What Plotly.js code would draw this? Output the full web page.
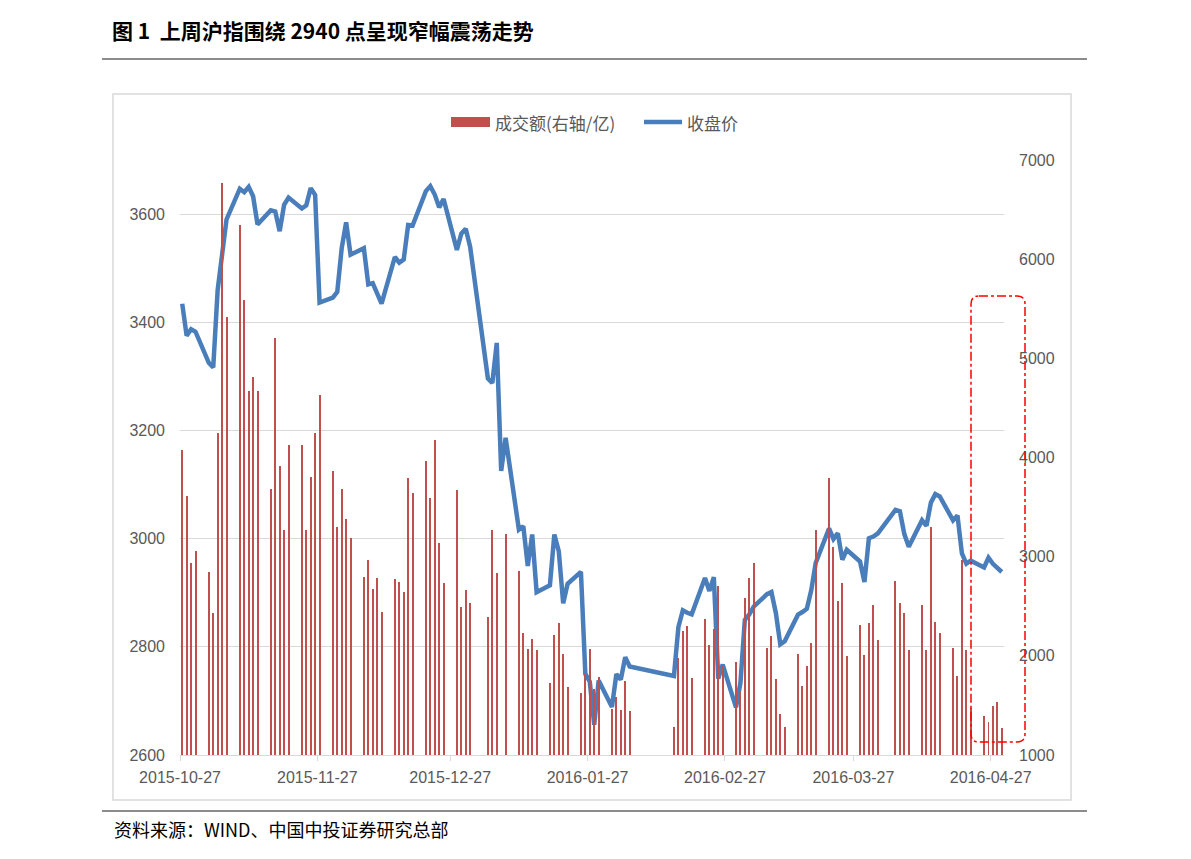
<!DOCTYPE html>
<html>
<head>
<meta charset="utf-8">
<script src="https://cdn.plot.ly/plotly-3.0.1.min.js"></script>
<style>
  html, body { margin: 0; padding: 0; background: #ffffff; }
  #chart { width: 1191px; height: 859px; }
</style>
</head>
<body>
<div id="chart"></div>
<script>
// Trading days (x values on a date axis)
const dates = [
  "2015-10-27","2015-10-28","2015-10-29","2015-10-30",
  "2015-11-02","2015-11-03","2015-11-04","2015-11-05","2015-11-06",
  "2015-11-09","2015-11-10","2015-11-11","2015-11-12","2015-11-13",
  "2015-11-16","2015-11-17","2015-11-18","2015-11-19","2015-11-20",
  "2015-11-23","2015-11-24","2015-11-25","2015-11-26","2015-11-27",
  "2015-11-30","2015-12-01","2015-12-02","2015-12-03","2015-12-04",
  "2015-12-07","2015-12-08","2015-12-09","2015-12-10","2015-12-11",
  "2015-12-14","2015-12-15","2015-12-16","2015-12-17","2015-12-18",
  "2015-12-21","2015-12-22","2015-12-23","2015-12-24","2015-12-25",
  "2015-12-28","2015-12-29","2015-12-30","2015-12-31",
  "2016-01-04","2016-01-05","2016-01-06","2016-01-07","2016-01-08",
  "2016-01-11","2016-01-12","2016-01-13","2016-01-14","2016-01-15",
  "2016-01-18","2016-01-19","2016-01-20","2016-01-21","2016-01-22",
  "2016-01-25","2016-01-26","2016-01-27","2016-01-28","2016-01-29",
  "2016-02-01","2016-02-02","2016-02-03","2016-02-04","2016-02-05",
  "2016-02-15","2016-02-16","2016-02-17","2016-02-18","2016-02-19",
  "2016-02-22","2016-02-23","2016-02-24","2016-02-25","2016-02-26",
  "2016-02-29","2016-03-01","2016-03-02","2016-03-03","2016-03-04",
  "2016-03-07","2016-03-08","2016-03-09","2016-03-10","2016-03-11",
  "2016-03-14","2016-03-15","2016-03-16","2016-03-17","2016-03-18",
  "2016-03-21","2016-03-22","2016-03-23","2016-03-24","2016-03-25",
  "2016-03-28","2016-03-29","2016-03-30","2016-03-31","2016-04-01",
  "2016-04-05","2016-04-06","2016-04-07","2016-04-08",
  "2016-04-11","2016-04-12","2016-04-13","2016-04-14","2016-04-15",
  "2016-04-18","2016-04-19","2016-04-20","2016-04-21","2016-04-22",
  "2016-04-25","2016-04-26","2016-04-27","2016-04-28","2016-04-29"
];

// 收盘价 (left axis)
const closePrice = [
  3434.34,3375.20,3387.32,3382.56,
  3325.08,3316.70,3459.64,3522.82,3590.03,
  3646.88,3640.49,3650.25,3632.90,3580.84,
  3606.96,3604.80,3568.47,3617.06,3630.50,
  3610.31,3616.11,3647.93,3635.55,3436.30,
  3445.40,3456.31,3536.91,3584.82,3524.99,
  3536.93,3470.07,3472.44,3455.50,3434.58,
  3520.67,3510.35,3516.19,3580.00,3578.96,
  3642.47,3651.77,3636.09,3612.49,3627.91,
  3533.78,3563.74,3572.88,3539.18,
  3296.26,3287.71,3361.84,3125.00,3186.41,
  3016.70,3022.86,2949.60,3007.65,2900.97,
  2913.84,3007.74,2976.69,2880.48,2916.56,
  2938.51,2749.79,2735.56,2655.66,2737.60,
  2688.85,2749.57,2739.25,2781.02,2763.49,
  2746.20,2836.57,2867.34,2862.89,2860.02,
  2927.18,2903.33,2928.90,2741.25,2767.21,
  2687.98,2733.17,2849.68,2859.76,2874.15,
  2897.34,2901.39,2862.56,2804.73,2810.31,
  2859.50,2864.37,2870.43,2904.83,2955.15,
  3018.80,2999.36,3009.96,2960.97,2979.43,
  2957.82,2919.83,3000.65,3003.92,3009.53,
  3053.07,3050.59,3008.42,2984.96,
  3033.96,3023.65,3066.64,3082.36,3078.12,
  3033.66,3042.82,2972.58,2953.67,2959.24,
  2946.67,2964.70,2953.50,2945.59,2938.32
];

// 成交额 (right axis, 亿)
const turnover = [
  4078,3607,2937,3061,
  2850,2432,4248,6772,5416,
  6347,5586,4666,4813,4674,
  3683,5201,3913,3272,4127,
  4127,3268,3800,4248,4629,
  3864,3295,3679,3378,3189,
  2794,2971,2669,2786,2439,
  2778,2748,2640,3796,3638,
  3964,3591,4180,3138,2731,
  3672,2496,2660,2529,
  2395,3269,2838,650,3228,
  2852,2227,2072,2166,2055,
  1726,2213,2331,2022,1689,
  1628,1813,2065,1662,1786,
  1464,1581,1457,1743,1447,
  1286,1981,2254,2297,1780,
  2375,2106,2267,2707,1900,
  1936,1650,2583,2788,2937,
  2075,2197,1765,1413,1279,
  2022,1696,1894,2130,3270,
  3790,3097,2549,2734,1995,
  2311,2005,2331,2509,2163,
  2754,2536,2428,2062,
  2512,2062,3299,2341,2230,
  2076,1797,2966,2055,1477,
  1397,1333,1494,1534,1276
];

const seriesNames = ["成交额(右轴/亿)", "收盘价"];
const xTickLabels = ["2015-10-27","2015-11-27","2015-12-27","2016-01-27","2016-02-27","2016-03-27","2016-04-27"];
const leftTicks = { min: 2600, max: 3700, step: 200 };
const rightTicks = { min: 1000, max: 7000, step: 1000 };
const xRange = ["2015-10-27", "2016-04-30"];

const BAR_COLOR = "#C0504D";
const LINE_COLOR = "#4A7EBB";
const DAY = 86400000;
const tickFont = { family: "Liberation Sans, Arial, sans-serif", size: 16, color: "#595959" };
const legendFont = { family: "Noto Sans CJK SC, sans-serif", size: 17, color: "#595959" };

// plot area in pixels: x 180..1004, y 160..755
const PX = (px) => (px - 180) / 824;
const PY = (py) => (755 - py) / 595;

const traces = [
  {
    type: "bar",
    name: seriesNames[0],
    x: dates,
    y: turnover,
    yaxis: "y2",
    xperiod: DAY,
    xperiodalignment: "middle",
    width: 0.45 * DAY,
    marker: { color: BAR_COLOR, line: { width: 0 } },
    showlegend: false
  },
  {
    type: "scatter",
    mode: "lines",
    name: seriesNames[1],
    x: dates,
    y: closePrice,
    xperiod: DAY,
    xperiodalignment: "middle",
    line: { color: LINE_COLOR, width: 4.5 },
    showlegend: false
  }
];

function roundedBoxPath(X0, X1, Y0, Y1, rx, ry) {
  const f = (v) => v.toFixed(5);
  return "M" + f(X0 + rx) + "," + f(Y1) +
    " L" + f(X1 - rx) + "," + f(Y1) +
    " Q" + f(X1) + "," + f(Y1) + " " + f(X1) + "," + f(Y1 - ry) +
    " L" + f(X1) + "," + f(Y0 + ry) +
    " Q" + f(X1) + "," + f(Y0) + " " + f(X1 - rx) + "," + f(Y0) +
    " L" + f(X0 + rx) + "," + f(Y0) +
    " Q" + f(X0) + "," + f(Y0) + " " + f(X0) + "," + f(Y0 + ry) +
    " L" + f(X0) + "," + f(Y1 - ry) +
    " Q" + f(X0) + "," + f(Y1) + " " + f(X0 + rx) + "," + f(Y1) + " Z";
}

const layout = {
  width: 1191,
  height: 859,
  paper_bgcolor: "#ffffff",
  plot_bgcolor: "rgba(0,0,0,0)",
  margin: { l: 180, r: 187, t: 160, b: 104, pad: 0 },
  title: {
    text: "<b>图 1\u00a0\u00a0上周沪指围绕 2940 点呈现窄幅震荡走势</b>",
    font: { family: "Noto Sans CJK SC, sans-serif", size: 21, color: "#000000" },
    xref: "container", yref: "container",
    x: 112 / 1191, xanchor: "left",
    y: 1 - 32 / 859, yanchor: "middle"
  },
  showlegend: false,
  bargap: 0,
  xaxis: {
    type: "date",
    range: xRange,
    tickmode: "array",
    tickvals: xTickLabels,
    ticktext: xTickLabels,
    ticks: "outside",
    ticklen: 5,
    tickcolor: "#D9D9D9",
    showline: true,
    linecolor: "#D9D9D9",
    linewidth: 1,
    showgrid: false,
    zeroline: false,
    ticklabelstandoff: 3,
    tickfont: tickFont,
    fixedrange: true
  },
  yaxis: {
    range: [leftTicks.min, leftTicks.max],
    tick0: leftTicks.min,
    dtick: leftTicks.step,
    showgrid: true,
    gridcolor: "#D9D9D9",
    gridwidth: 1,
    zeroline: false,
    showline: false,
    ticks: "",
    ticklabelstandoff: 14,
    tickfont: tickFont,
    fixedrange: true
  },
  yaxis2: {
    overlaying: "y",
    side: "right",
    range: [rightTicks.min, rightTicks.max],
    tick0: rightTicks.min,
    dtick: rightTicks.step,
    showgrid: false,
    zeroline: false,
    showline: false,
    ticks: "",
    ticklabelstandoff: 14,
    tickfont: tickFont,
    fixedrange: true
  },
  shapes: [
    // line under the title
    { type: "line", xref: "paper", yref: "paper",
      x0: PX(102), x1: PX(1087), y0: PY(59), y1: PY(59),
      line: { color: "#8C8C8C", width: 2 } },
    // chart frame
    { type: "rect", xref: "paper", yref: "paper",
      x0: PX(113), x1: PX(1071), y0: PY(800), y1: PY(94),
      line: { color: "#D9D9D9", width: 1.5 } },
    // line above the source note
    { type: "line", xref: "paper", yref: "paper",
      x0: PX(102), x1: PX(1087), y0: PY(811), y1: PY(811),
      line: { color: "#8C8C8C", width: 2 } },
    // legend swatch: bars
    { type: "rect", xref: "paper", yref: "paper",
      x0: PX(451), x1: PX(490), y0: PY(127), y1: PY(117),
      fillcolor: BAR_COLOR, line: { width: 0 } },
    // legend swatch: line
    { type: "line", xref: "paper", yref: "paper",
      x0: PX(644), x1: PX(682), y0: PY(122), y1: PY(122),
      line: { color: LINE_COLOR, width: 4.5 } },
    // red dash-dot rounded highlight box (last week)
    { type: "path", xref: "paper", yref: "paper",
      path: roundedBoxPath(PX(971), PX(1025), PY(742), PY(296), 8 / 824, 8 / 595),
      line: { color: "#FF0000", width: 1.5, dash: "dashdot" } }
  ],
  annotations: [
    { text: seriesNames[0], xref: "paper", yref: "paper",
      x: PX(493), xanchor: "left", y: PY(122), yanchor: "middle",
      showarrow: false, font: legendFont },
    { text: seriesNames[1], xref: "paper", yref: "paper",
      x: PX(685), xanchor: "left", y: PY(122), yanchor: "middle",
      showarrow: false, font: legendFont },
    { text: "资料来源：WIND、中国中投证券研究总部",
      xref: "paper", yref: "paper",
      x: PX(112), xanchor: "left",
      y: PY(829), yanchor: "middle",
      showarrow: false,
      font: { family: "Noto Sans CJK SC, sans-serif", size: 18, color: "#000000" } }
  ]
};

Plotly.newPlot("chart", traces, layout, { displayModeBar: false, staticPlot: true });
</script>
</body>
</html>
